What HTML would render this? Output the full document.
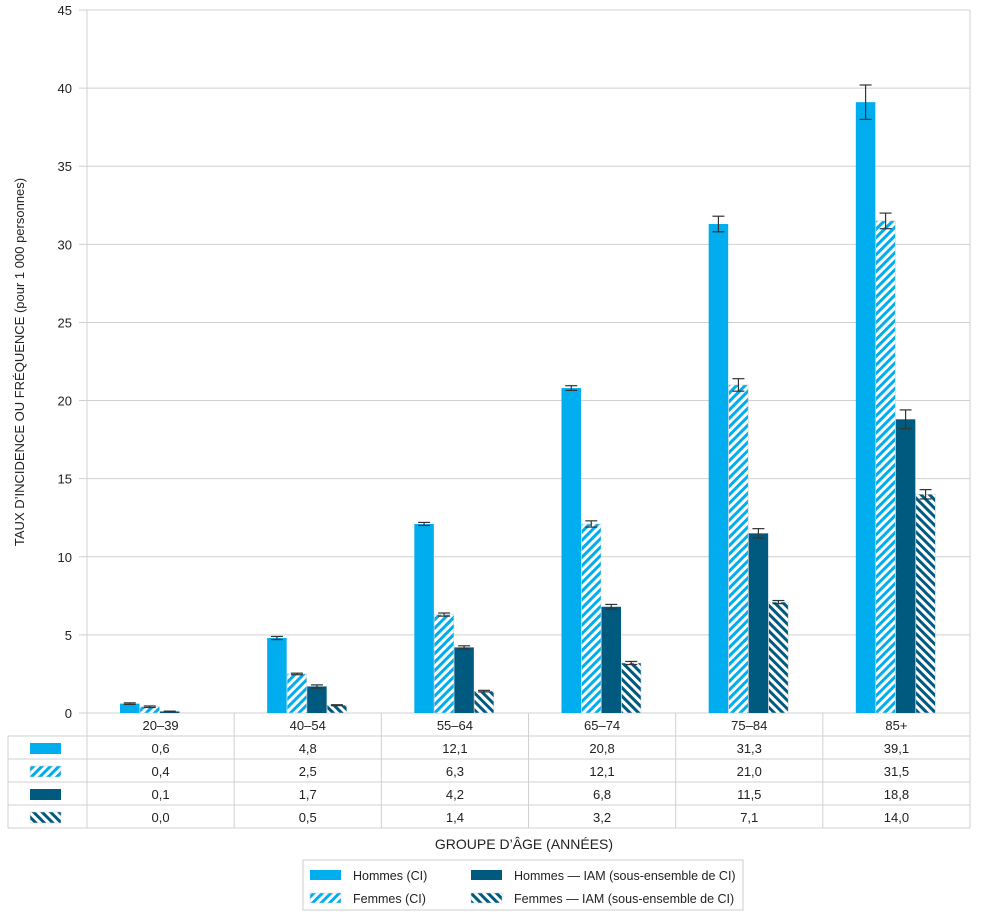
<!DOCTYPE html>
<html><head><meta charset="utf-8"><style>
body{margin:0;background:#fff;}
svg{display:block;font-family:"Liberation Sans",sans-serif;}
</style></head><body>
<svg id="c" width="982" height="916">
<defs>
<pattern id="hatchF" patternUnits="userSpaceOnUse" width="6" height="6" patternTransform="rotate(45)">
<rect width="6" height="6" fill="#fff"/><rect width="3" height="6" fill="#00aeef"/></pattern>
<pattern id="hatchM" patternUnits="userSpaceOnUse" width="6" height="6" patternTransform="rotate(-45)">
<rect width="6" height="6" fill="#fff"/><rect width="3" height="6" fill="#005a80"/></pattern>
</defs>
</svg>
<script>
const categories=["20–39","40–54","55–64","65–74","75–84","85+"];
const hommesCI=[0.6,4.8,12.1,20.8,31.3,39.1];
const femmesCI=[0.4,2.5,6.3,12.1,21.0,31.5];
const hommesIAM=[0.1,1.7,4.2,6.8,11.5,18.8];
const femmesIAM=[0.0,0.5,1.4,3.2,7.1,14.0];
const errHommesCI=[0.05,0.1,0.1,0.15,0.5,1.1];
const errFemmesCI=[0.05,0.05,0.1,0.2,0.4,0.5];
const errHommesIAM=[0.02,0.1,0.1,0.15,0.3,0.6];
const errFemmesIAM=[0.0,0.03,0.05,0.1,0.1,0.3];
const yTicks=[0,5,10,15,20,25,30,35,40,45];
const labels=["Hommes (CI)","Femmes (CI)","Hommes — IAM (sous-ensemble de CI)","Femmes — IAM (sous-ensemble de CI)"];

const svg=document.getElementById('c');
const NS='http://www.w3.org/2000/svg';
function mk(t,a,p){const e=document.createElementNS(NS,t);for(const k in a)e.setAttribute(k,a[k]);(p||svg).appendChild(e);return e;}
const X0=87,X1=970,Y0=713,YT=10,YMAX=45;
const gw=(X1-X0)/categories.length;
const y=v=>Y0-v/YMAX*(Y0-YT);
const fills=["#00aeef","url(#hatchF)","#005a80","url(#hatchM)"];
const series=[hommesCI,femmesCI,hommesIAM,femmesIAM];
const errs=[errHommesCI,errFemmesCI,errHommesIAM,errFemmesIAM];

yTicks.forEach(t=>{
 const l=mk('line',{x1:X0-8,x2:X1,y1:y(t),y2:y(t),stroke:'#d0d0d0','stroke-width':1});
 
 const tx=mk('text',{x:72,y:y(t)+5,'text-anchor':'end','font-size':13,fill:'#222'});
 tx.textContent=t;
});
const fr=mk('rect',{x:X0,y:YT,width:X1-X0,height:Y0-YT,fill:'none',stroke:'#d0d0d0'});


const yt=mk('text',{transform:'translate(24,362) rotate(-90)','text-anchor':'middle','font-size':13,fill:'#222'});
yt.textContent="TAUX D’INCIDENCE OU FRÉQUENCE (pour 1 000 personnes)";


const bw=19.5;
categories.forEach((c,i)=>{
 const gx=X0+i*gw+33;
 series.forEach((s,k)=>{
  const x=gx+k*(bw+0.5);
  const r=mk('rect',{x:x,y:y(s[i]),width:bw,height:Y0-y(s[i]),fill:fills[k],stroke:k%2?'#ccc':'none','stroke-width':0.5});
  
  const e=errs[k][i];
  if(e>0){const cx=x+bw/2,g=mk('g',{stroke:'#333','stroke-width':1.2});
   
   mk('line',{x1:cx,x2:cx,y1:y(s[i]+e),y2:y(s[i]-e)},g);
   mk('line',{x1:cx-6,x2:cx+6,y1:y(s[i]+e),y2:y(s[i]+e)},g);
   mk('line',{x1:cx-6,x2:cx+6,y1:y(s[i]-e),y2:y(s[i]-e)},g);}
 });
});

// table
const rowY=[713,736,759,782,805,828];
const tb=mk('g',{stroke:'#d0d0d0','stroke-width':1});

for(let r=1;r<rowY.length;r++)mk('line',{x1:8,x2:X1,y1:rowY[r],y2:rowY[r]},tb);
mk('line',{x1:8,x2:8,y1:736,y2:828},tb);
for(let i=0;i<=categories.length;i++)mk('line',{x1:X0+i*gw,x2:X0+i*gw,y1:713,y2:828},tb);
categories.forEach((c,i)=>{
 const cx=X0+i*gw+gw/2;
 const t=mk('text',{x:cx,y:730,'text-anchor':'middle','font-size':13,fill:'#222'});t.textContent=c;
 
 series.forEach((s,k)=>{
  const v=mk('text',{x:cx,y:rowY[k+1]+17,'text-anchor':'middle','font-size':13,fill:'#222'});
  v.textContent=s[i].toFixed(1).replace('.',',');
  
 });
});
series.forEach((s,k)=>{
 const r=mk('rect',{x:30,y:rowY[k+1]+7,width:31,height:11,fill:fills[k],stroke:k%2?'#ccc':'none','stroke-width':0.5});
 
});
const xt=mk('text',{x:524,y:849,'text-anchor':'middle','font-size':14,fill:'#222'});
xt.textContent="GROUPE D’ÂGE (ANNÉES)";

// legend
const lg=mk('g',{});
mk('rect',{x:303,y:860,width:440,height:50,fill:'#fff',stroke:'#ccc'},lg);
const pos=[[310,870],[310,893],[471,870],[471,893]];
labels.forEach((lab,k)=>{
 const g=mk('g',{},lg);
 mk('rect',{x:pos[k][0],y:pos[k][1],width:31,height:10,fill:fills[k],stroke:k%2?'#ccc':'none','stroke-width':0.5},g);
 const t=mk('text',{x:pos[k][0]+43,y:pos[k][1]+10,'font-size':12.5,fill:'#222'},g);t.textContent=lab;
});
</script>
</body></html>
